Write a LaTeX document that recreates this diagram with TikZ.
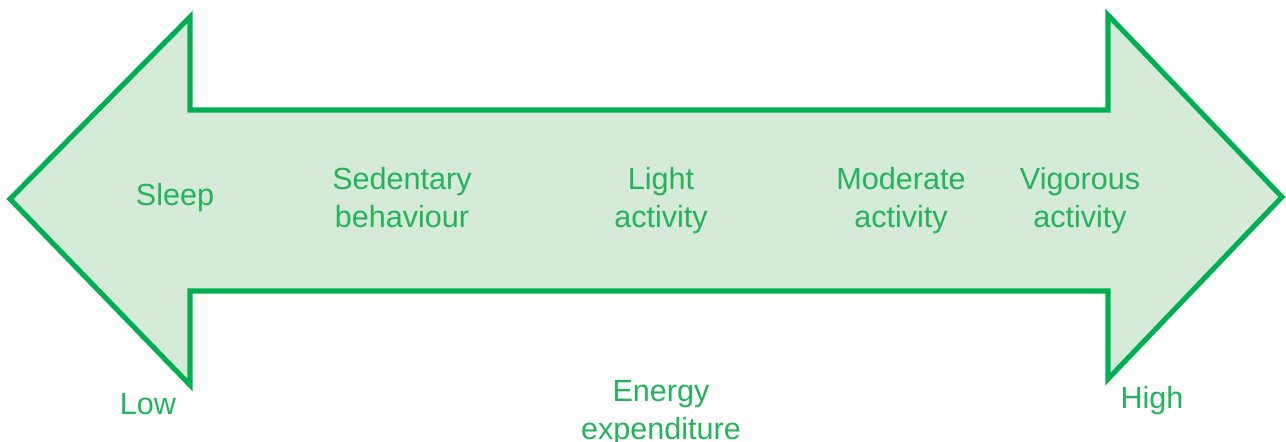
\documentclass[tikz,border=0pt]{standalone}
\usepackage{fontspec}
\setmainfont{Liberation Sans}
\usepackage{xcolor}
\usepackage{tikz}
\definecolor{arrowline}{HTML}{00B050}
\definecolor{arrowfill}{HTML}{D6EBD7}
\definecolor{labeltext}{HTML}{22B35B}

\begin{document}
\begin{tikzpicture}[
    lbl/.style={text=labeltext, align=center, font=\fontsize{8.7pt}{10.8pt}\selectfont, inner sep=0pt},
    big/.style={draw=arrowline, fill=arrowfill, line width=1.45pt, line join=miter}]
    \useasboundingbox (0,0) rectangle (12.86,4.41);
    \draw[big] (0.10,2.42) -- (1.90,4.24) -- (1.90,3.31) -- (11.08,3.31) -- (11.08,4.26)
        -- (12.82,2.44) -- (11.08,0.62) -- (11.08,1.50) -- (1.90,1.50) -- (1.90,0.56) -- cycle;

    \node[lbl] (sleep) at (1.75,2.43) {Sleep};
    \node[lbl] (sed) at (4.02,2.43) {Sedentary\\behaviour};
    \node[lbl] (light) at (6.61,2.40) {Light\\activity};
    \node[lbl] (mod) at (9.01,2.40) {Moderate\\activity};
    \node[lbl] (vig) at (10.80,2.40) {Vigorous\\activity};

    \node[lbl] (low) at (1.48,0.37) {Low};
    \node[lbl] (high) at (11.52,0.40) {High};
    \node[lbl] (energy) at (6.61,0.28) {Energy\\expenditure};
\end{tikzpicture}
\end{document}
